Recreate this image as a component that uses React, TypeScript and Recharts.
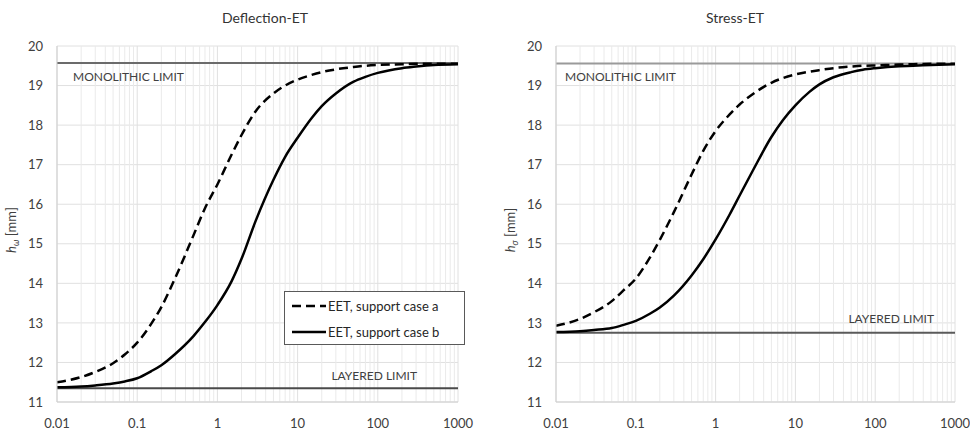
import {
  CartesianGrid,
  Legend,
  Line,
  LineChart,
  ReferenceLine,
  XAxis,
  YAxis,
} from "recharts";

const xValues = [
  0.01, 0.02, 0.03, 0.05, 0.07, 0.1, 0.15, 0.2, 0.3, 0.5, 0.7, 1, 1.5, 2, 3, 5, 7, 10, 15, 20, 30, 50, 70,
  100, 200, 300, 500, 1000,
];

// Deflection-ET
const deflectionCaseA = [
  11.5, 11.63, 11.76, 11.98, 12.2, 12.5, 12.98, 13.4, 14.15, 15.2, 15.9, 16.5, 17.25, 17.75, 18.35, 18.8,
  19.0, 19.15, 19.27, 19.34, 19.41, 19.47, 19.5, 19.52, 19.54, 19.55, 19.55, 19.55,
];
const deflectionCaseB = [
  11.37, 11.39, 11.42, 11.47, 11.52, 11.6, 11.78, 11.93, 12.22, 12.66, 13.02, 13.45, 14.05, 14.62, 15.58, 16.62,
  17.2, 17.68, 18.18, 18.48, 18.8, 19.1, 19.22, 19.32, 19.44, 19.48, 19.52, 19.54,
];

// Stress-ET
const stressCaseA = [
  12.93, 13.1, 13.27, 13.55, 13.82, 14.12, 14.65, 15.1, 15.8, 16.75, 17.35, 17.85, 18.27, 18.52, 18.8, 19.07,
  19.19, 19.28, 19.35, 19.39, 19.44, 19.48, 19.5, 19.51, 19.53, 19.54, 19.55, 19.55,
];
const stressCaseB = [
  12.77, 12.79, 12.82, 12.87, 12.95, 13.05, 13.23, 13.39, 13.69, 14.2, 14.61, 15.11, 15.74, 16.22, 16.89, 17.7,
  18.13, 18.5, 18.84, 19.03, 19.21, 19.34, 19.4, 19.44, 19.49, 19.5, 19.52, 19.54,
];

const deflectionMonolithic = 19.57;
const deflectionLayered = 11.35;
const stressMonolithic = 19.56;
const stressLayered = 12.75;

const seriesNames = ["EET, support case a", "EET, support case b"];
const xTicks = [0.01, 0.1, 1, 10, 100, 1000];
const decades = [0.01, 0.1, 1, 10, 100];
const minorSteps = [2, 3, 4, 5, 6, 7, 8, 9];
const yTicks = [11, 12, 13, 14, 15, 16, 17, 18, 19, 20];

const minorGrid = decades.flatMap((d) => minorSteps.map((m) => +(d * m).toPrecision(3)));

const FONT = "Lato, 'Open Sans', sans-serif";
const DASH = "9 5";

function YLabel({ viewBox, sub }: any) {
  const cx = viewBox.x - 1;
  const cy = viewBox.y + viewBox.height / 2 + 6;
  return (
    <text
      x={cx}
      y={cy}
      transform={`rotate(-90 ${cx} ${cy})`}
      textAnchor="middle"
      fill="#404040"
      fontSize={13}
      fontFamily={FONT}
    >
      <tspan fontStyle="italic">h</tspan>
      <tspan fontStyle="italic" fontSize={9} dy={3}>
        {sub}
      </tspan>
      <tspan dy={-3}> [mm]</tspan>
    </text>
  );
}

function LimitLabel({ viewBox, text, dx, dy, anchor }: any) {
  const x = anchor === "start" ? viewBox.x + dx : viewBox.x + viewBox.width - dx;
  return (
    <text
      x={x}
      y={viewBox.y + dy}
      textAnchor={anchor}
      dominantBaseline="central"
      fill="#404040"
      fontSize={12}
      fontFamily={FONT}
    >
      {text}
    </text>
  );
}

function LegendBox({ payload }: any) {
  return (
    <div
      style={{
        width: 179,
        height: 52,
        border: "1px solid #595959",
        background: "#fff",
        fontFamily: FONT,
        fontSize: 13,
        color: "#262626",
      }}
    >
      {(payload || []).map((p: any, i: number) => (
        <div key={i} style={{ display: "flex", alignItems: "center", height: 26, marginTop: i === 0 ? 1 : 0 }}>
          <svg width={42} height={10} style={{ marginLeft: 7 }}>
            <line
              x1={0}
              y1={5}
              x2={34}
              y2={5}
              stroke="#000"
              strokeWidth={2.5}
              strokeDasharray={p.payload?.strokeDasharray}
            />
          </svg>
          <span style={{ marginLeft: -6 }}>{p.value}</span>
        </div>
      ))}
    </div>
  );
}

type PanelProps = {
  title: string;
  titleX: number;
  sub: string;
  caseA: number[];
  caseB: number[];
  monolithic: number;
  layered: number;
  marginLeft: number;
  marginRight: number;
  monoDx: number;
  layDx: number;
  layDy: number;
  monoStroke: string;
  layStroke: string;
  showLegend: boolean;
};

function Panel(props: PanelProps) {
  const data = xValues.map((x, i) => ({ x, a: props.caseA[i], b: props.caseB[i] }));
  return (
    <div style={{ position: "relative", width: 485, height: 434 }}>
      <div
        style={{
          position: "absolute",
          left: props.titleX - 100,
          width: 200,
          top: 9,
          textAlign: "center",
          fontFamily: FONT,
          fontSize: 14,
          color: "#333",
        }}
      >
        {props.title}
      </div>
      <LineChart
        width={485}
        height={434}
        data={data}
        margin={{ top: 46, right: props.marginRight, bottom: 4, left: props.marginLeft }}
        style={{ fontFamily: FONT }}
      >
        {minorGrid.map((v) => (
          <ReferenceLine key={v} x={v} stroke="#eaeaea" strokeWidth={1} />
        ))}
        <CartesianGrid stroke="#e0e0e0" />
        <XAxis
          dataKey="x"
          type="number"
          scale="log"
          domain={[0.01, 1000]}
          allowDataOverflow
          ticks={xTicks}
          interval={0}
          tickFormatter={(v) => String(v)}
          height={28}
          tickLine={false}
          tickMargin={11}
          axisLine={{ stroke: "#cfcfcf" }}
          tick={{ fill: "#404040", fontSize: 13 }}
        />
        <YAxis
          type="number"
          domain={[11, 20]}
          ticks={yTicks}
          interval={0}
          width={40}
          tickLine={false}
          tickMargin={8}
          axisLine={{ stroke: "#cfcfcf" }}
          tick={{ fill: "#404040", fontSize: 13 }}
          label={(p: any) => <YLabel {...p} sub={props.sub} />}
        />
        <ReferenceLine
          y={props.monolithic}
          stroke={props.monoStroke}
          strokeWidth={2}
          label={(p: any) => (
            <LimitLabel {...p} text="MONOLITHIC LIMIT" dx={props.monoDx} dy={13} anchor="start" />
          )}
        />
        <ReferenceLine
          y={props.layered}
          stroke={props.layStroke}
          strokeWidth={2}
          label={(p: any) => (
            <LimitLabel {...p} text="LAYERED LIMIT" dx={props.layDx} dy={props.layDy} anchor="end" />
          )}
        />
        <Line
          type="monotone"
          dataKey="a"
          name={seriesNames[0]}
          stroke="#000"
          strokeWidth={2.5}
          strokeDasharray={DASH}
          dot={false}
          activeDot={false}
          isAnimationActive={false}
        />
        <Line
          type="monotone"
          dataKey="b"
          name={seriesNames[1]}
          stroke="#000"
          strokeWidth={2.5}
          dot={false}
          activeDot={false}
          isAnimationActive={false}
        />
        {props.showLegend && (
          <Legend
            layout="vertical"
            align="center"
            verticalAlign="middle"
            content={(p: any) => <LegendBox {...p} />}
            wrapperStyle={{ position: "absolute", left: 284, top: 291, width: 181, height: 54 }}
          />
        )}
      </LineChart>
    </div>
  );
}

export default function App() {
  return (
    <div
      style={{
        position: "absolute",
        left: 0,
        top: 0,
        width: 970,
        height: 434,
        display: "flex",
        background: "#fff",
      }}
    >
      <Panel
        title="Deflection-ET"
        titleX={265}
        sub="ω"
        caseA={deflectionCaseA}
        caseB={deflectionCaseB}
        monolithic={deflectionMonolithic}
        layered={deflectionLayered}
        marginLeft={17}
        marginRight={27}
        monoDx={16}
        layDx={41}
        layDy={-13}
        monoStroke="#6b6b6b"
        layStroke="#4a4a4a"
        showLegend
      />
      <Panel
        title="Stress-ET"
        titleX={250}
        sub="σ"
        caseA={stressCaseA}
        caseB={stressCaseB}
        monolithic={stressMonolithic}
        layered={stressLayered}
        marginLeft={31}
        marginRight={15}
        monoDx={9}
        layDx={21}
        layDy={-14}
        monoStroke="#9a9a9a"
        layStroke="#5a5a5a"
        showLegend={false}
      />
    </div>
  );
}
